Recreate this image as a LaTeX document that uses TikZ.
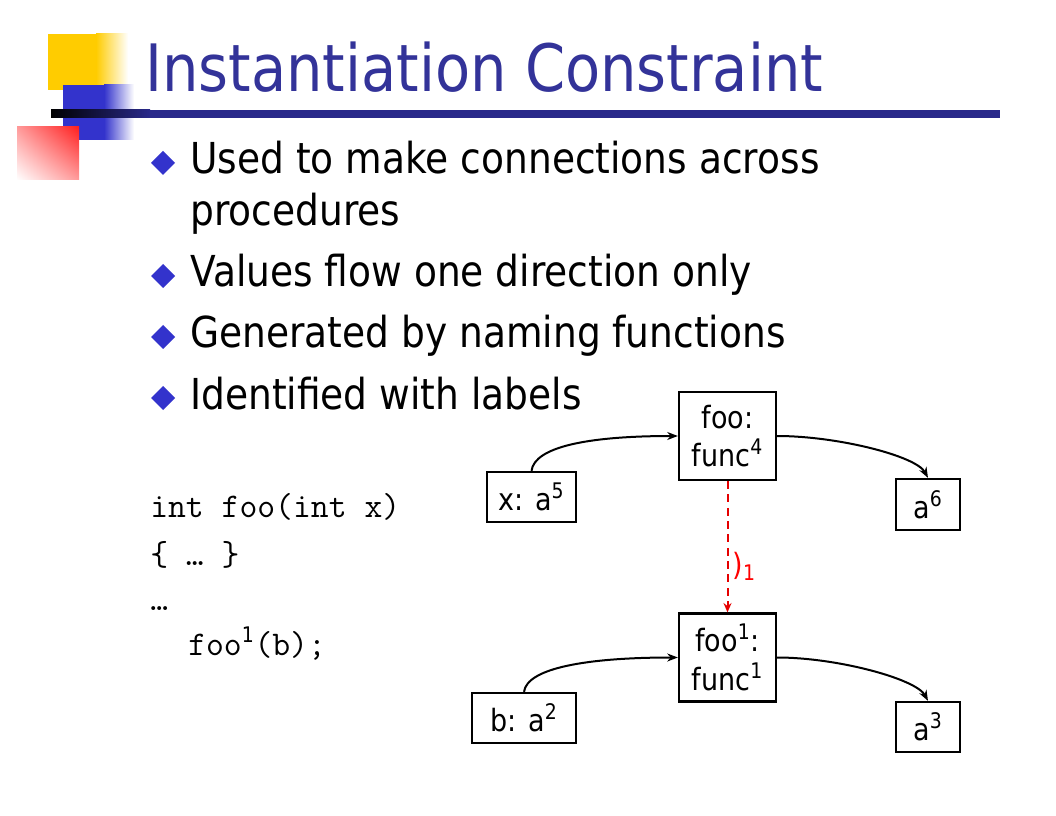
\documentclass[tikz,border=0pt]{standalone}
\usepackage{fontspec}
\setmainfont[FakeStretch=0.88]{DejaVu Sans}
\usepackage{tikz}
\usetikzlibrary{positioning,calc,arrows.meta,shadings}

\definecolor{titleblue}{HTML}{333399}
\definecolor{bulletblue}{HTML}{3333CC}
\definecolor{rulenavy}{HTML}{29298A}
\definecolor{decoyellow}{HTML}{FFCC00}
\definecolor{decored}{HTML}{FF2020}

\tikzset{
  varbox/.style={draw, rectangle, line width=1.7pt, inner sep=0pt, align=center,
    font=\fontsize{23}{29}\selectfont},
  flow/.style={-{Stealth[length=8pt,width=6pt]}, line width=1.5pt},
  inst/.style={-{Stealth[length=7pt,width=6pt]}, red!90!black, line width=1.5pt,
    dash pattern=on 6pt off 4pt},
  bullettext/.style={anchor=base west, inner sep=0pt, font=\fontsize{32}{38}\selectfont},
  codeline/.style={anchor=base west, inner sep=0pt, font=\fontsize{26}{30}\selectfont\ttfamily},
}

\begin{document}
\begin{tikzpicture}[x=0.75pt, y=-0.75pt]
    \useasboundingbox (0,0) rectangle (1056,816);
    \fill[white] (0,0) rectangle (1056,816);

    % corner decoration
    \fill[decoyellow] (48,34) rectangle (96,90);
    \shade[left color=decoyellow, right color=white] (96,34) rectangle (128,90);
    \fill[bulletblue] (63,85) rectangle (104,140);
    \shade[left color=bulletblue, right color=white] (104,85) rectangle (134,140);
    \shade[left color=black, right color=rulenavy] (51,110) rectangle (150,118);
    \fill[rulenavy] (150,110) rectangle (1000,118);
    \shade[upper left=decored!45!white, upper right=decored, lower left=white,
      lower right=decored!45!white] (17,127) rectangle (79,180);

    % title
    \node [anchor=base west, inner sep=0pt, text=titleblue, font=\fontsize{49}{55}\selectfont]
      (title) at (145,92) {Instantiation Constraint};

    % bullets
    \foreach \y in {163,276,337,398}
      \fill[bulletblue] (151,\y) -- (163,\y-12) -- (175,\y) -- (163,\y+12) -- cycle;
    \node [bullettext] (used) at (190,174) {Used to make connections across};
    \node [bullettext] (usedb) at (190,226) {procedures};
    \node [bullettext] (values) at (190,287) {Values flow one direction only};
    \node [bullettext] (generated) at (190,348) {Generated by naming functions};
    \node [bullettext] (identified) at (190,409) {Identified with labels};

    % code
    \node [codeline] (code1) at (150,517) {int foo(int x)};
    \node [codeline] (code2) at (150,565) {\{ … \}};
    \node [codeline] (code3) at (150,610) {…};
    \node [codeline] (code4) at (188,655) {foo{\rmfamily\fontsize{23}{28}\selectfont\textsuperscript{1}}(b);};

    % graph
    \node [varbox, minimum width=72.75pt, minimum height=66pt] (foo) at (727.5,436) {foo:\\func\textsuperscript{4}};
    \node [varbox, minimum width=66.75pt, minimum height=37.5pt] (xa) at (531.5,497) {x: a\textsuperscript{5}};
    \node [varbox, minimum width=48pt, minimum height=38.25pt] (asix) at (928,504.5) {a\textsuperscript{6}};
    \node [varbox, minimum width=72.75pt, minimum height=66pt] (fooone) at (727.5,657.5) {foo\textsuperscript{1}:\\func\textsuperscript{1}};
    \node [varbox, minimum width=78pt, minimum height=37.5pt] (ba) at (524,718) {b: a\textsuperscript{2}};
    \node [varbox, minimum width=48pt, minimum height=37.5pt] (athree) at (928,727) {a\textsuperscript{3}};

    \draw [flow] (xa.north) .. controls +(3,-24) and +(-90,0) .. (foo.west);
    \draw [flow] (foo.east) .. controls +(60,0) and +(-12,-22) .. (asix.north);
    \draw [flow] (ba.north) .. controls +(3,-24) and +(-90,0) .. (fooone.west);
    \draw [flow] (fooone.east) .. controls +(60,0) and +(-12,-22) .. (athree.north);

    \draw [inst] (foo.south) -- (fooone.north)
      node [pos=0.65, anchor=west, inner sep=3pt, text=red, font=\fontsize{23}{29}\selectfont] (inlabel) {)\textsubscript{1}};
\end{tikzpicture}
\end{document}
